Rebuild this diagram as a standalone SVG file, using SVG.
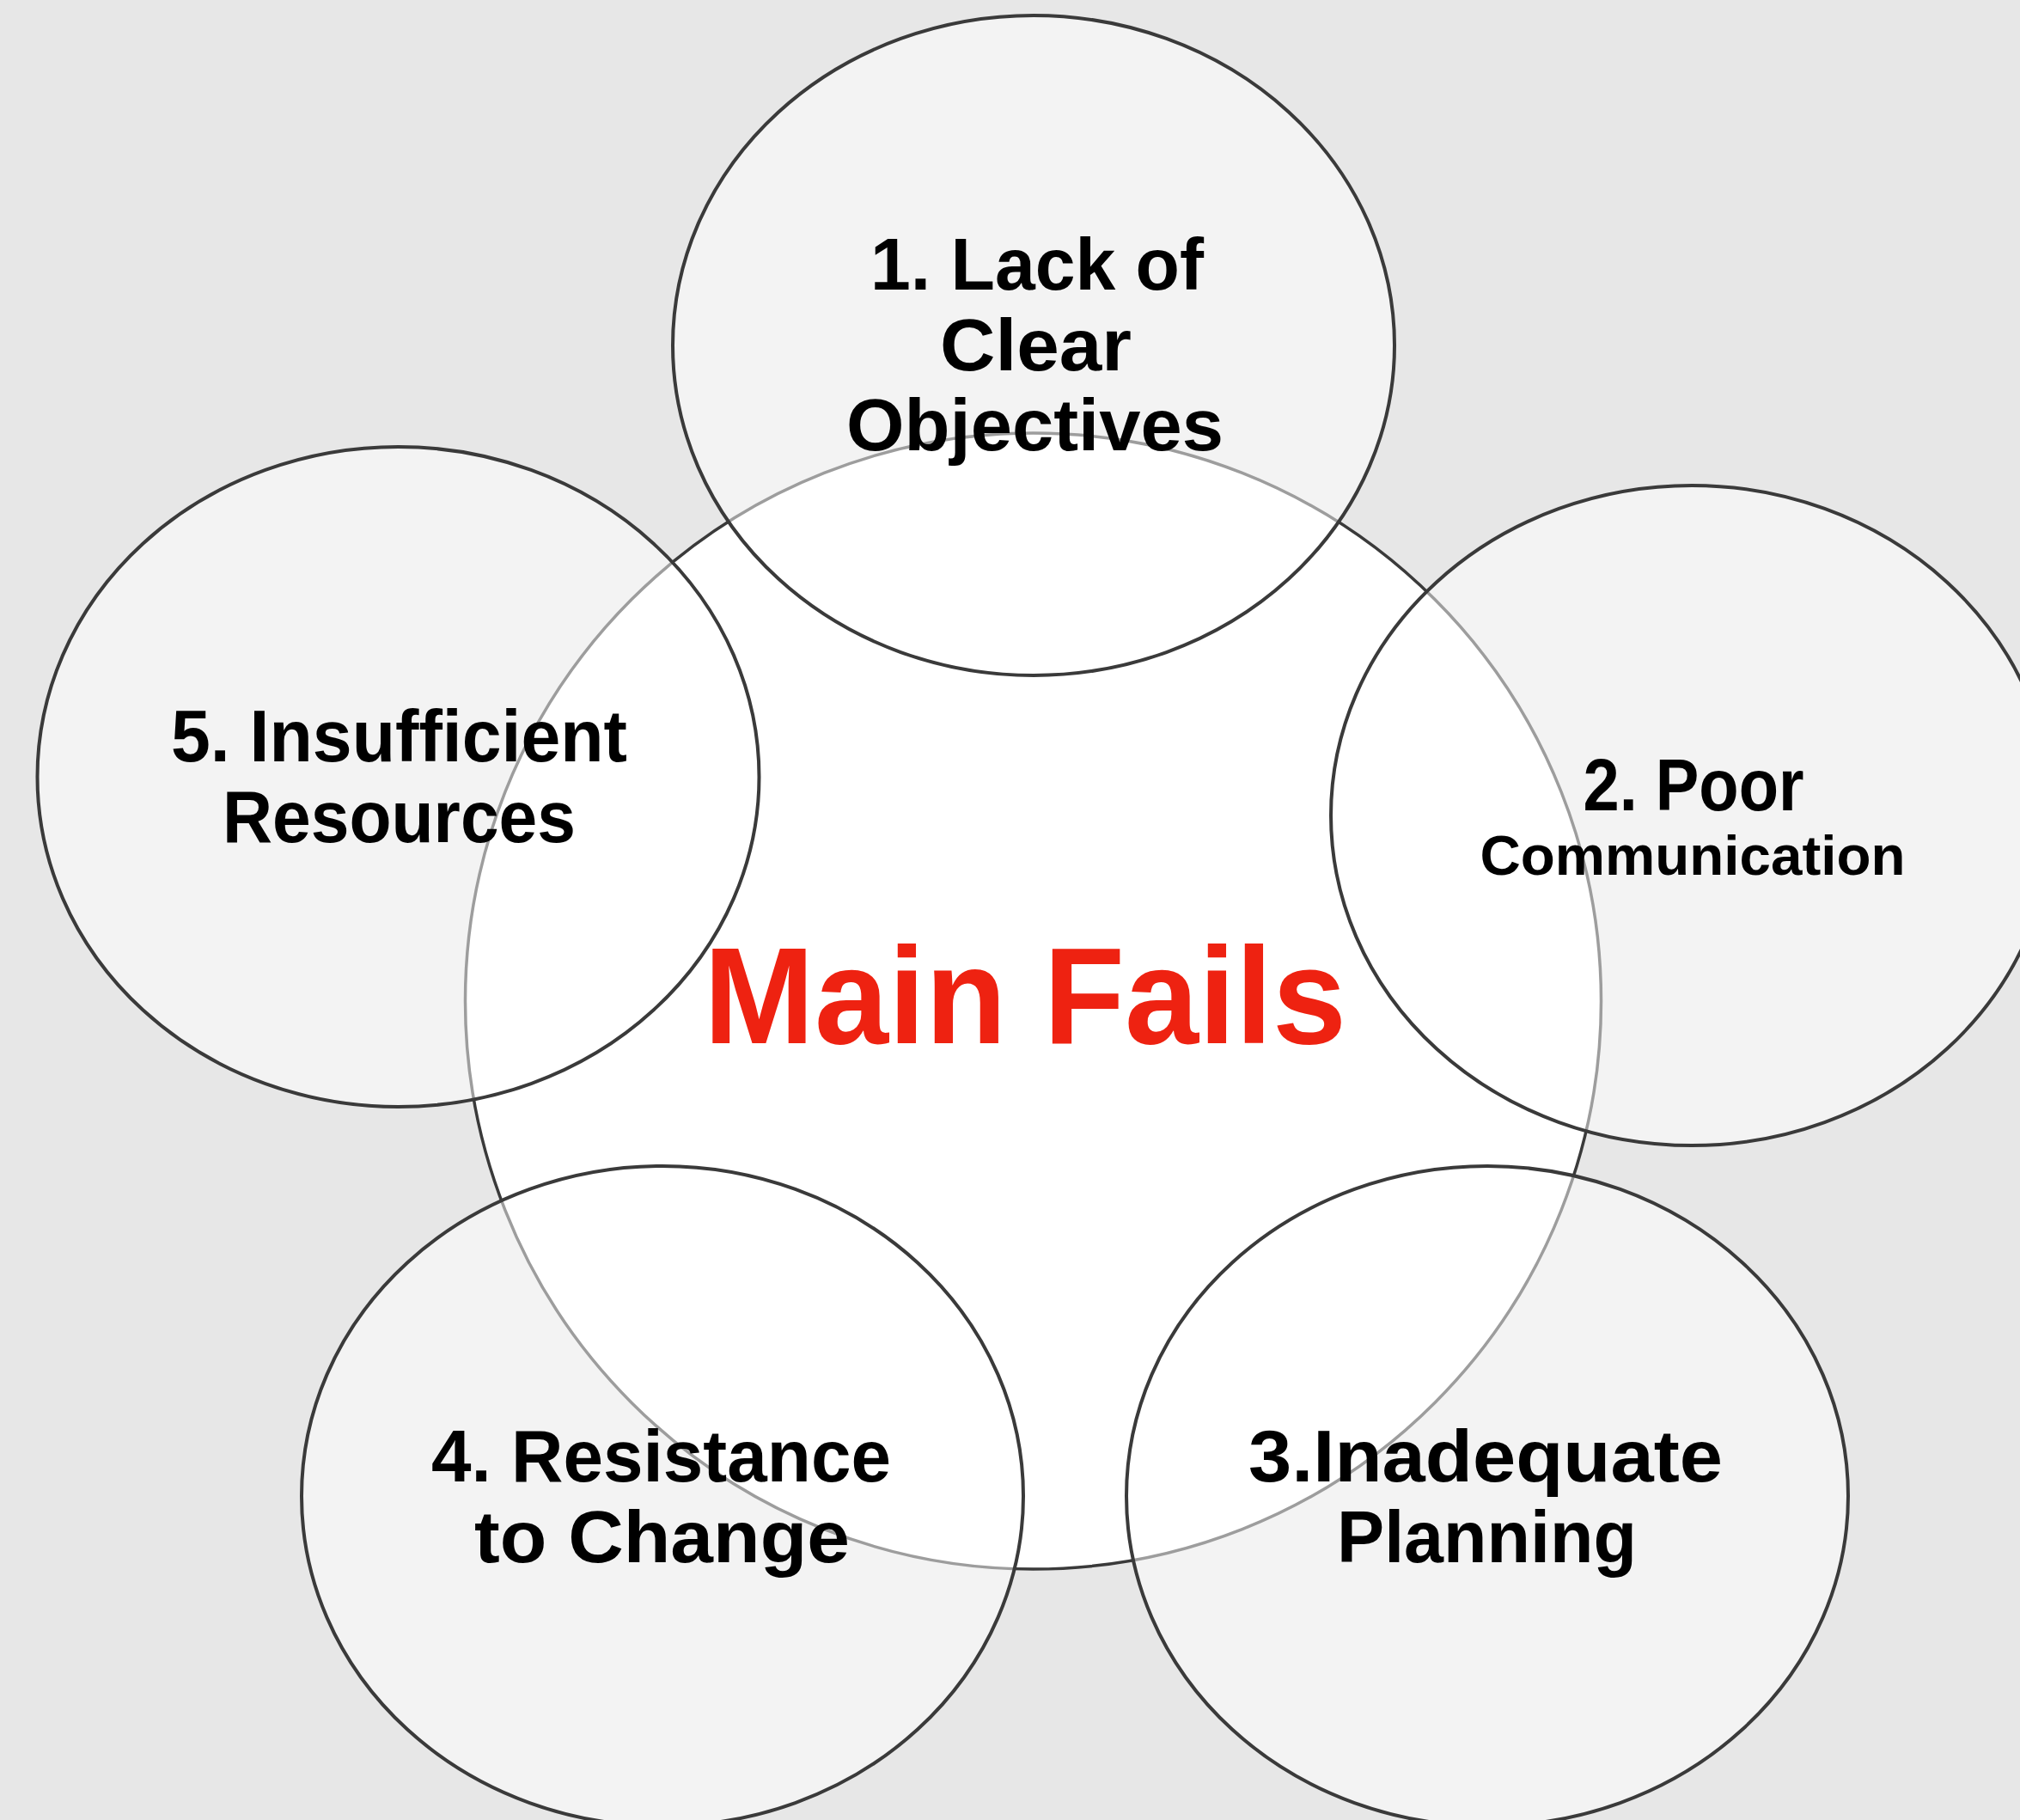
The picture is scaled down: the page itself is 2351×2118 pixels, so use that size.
<svg xmlns="http://www.w3.org/2000/svg" width="2351" height="2118" viewBox="0 0 2351 2118">
  <style>
    .hub { fill: #ffffff; stroke: #3a3a3a; stroke-width: 3.5; }
    .petal { fill: #ffffff; fill-opacity: 0.5; stroke: #3a3a3a; stroke-width: 4; }
    .lbl { font-family: "Liberation Sans", Arial, sans-serif; font-weight: bold; font-size: 86px; fill: #000000; text-anchor: middle; }
    .small { font-size: 65px; }
    .title { font-family: "Liberation Sans", Arial, sans-serif; font-weight: bold; font-size: 160px; fill: #ee2211; text-anchor: middle; }
  </style>

  <!-- page background -->
  <rect x="0" y="0" width="2351" height="2118" fill="#e7e7e7"/>

  <!-- central circle -->
  <g id="hub">
    <circle class="hub" cx="1202.5" cy="1165" r="661"/>
  </g>

  <!-- surrounding translucent ellipses -->
  <g id="node-1">
    <ellipse class="petal" cx="1203" cy="402" rx="420" ry="384"/>
  </g>
  <g id="node-2">
    <ellipse class="petal" cx="1969" cy="949" rx="420" ry="384"/>
  </g>
  <g id="node-3">
    <ellipse class="petal" cx="1731" cy="1741" rx="420" ry="384"/>
  </g>
  <g id="node-4">
    <ellipse class="petal" cx="771" cy="1741" rx="420" ry="384"/>
  </g>
  <g id="node-5">
    <ellipse class="petal" cx="463.5" cy="904" rx="420" ry="384"/>
  </g>

  <!-- no connectors in this diagram -->
  <g id="connectors"/>

  <!-- labels -->
  <g id="labels">
    <text class="title" x="1193" y="1214" textLength="748" lengthAdjust="spacingAndGlyphs">Main Fails</text>

    <text class="lbl" x="1207" y="337" textLength="388" lengthAdjust="spacingAndGlyphs">1. Lack of</text>
    <text class="lbl" x="1205.5" y="431" textLength="223" lengthAdjust="spacingAndGlyphs">Clear</text>
    <text class="lbl" x="1204.5" y="524" textLength="439" lengthAdjust="spacingAndGlyphs">Objectives</text>

    <text class="lbl" x="1971" y="943" textLength="257" lengthAdjust="spacingAndGlyphs">2. Poor</text>
    <text class="lbl small" x="1970" y="1018" textLength="495" lengthAdjust="spacingAndGlyphs">Communication</text>

    <text class="lbl" x="1729" y="1724" textLength="552" lengthAdjust="spacingAndGlyphs">3.Inadequate</text>
    <text class="lbl" x="1730.5" y="1818" textLength="349" lengthAdjust="spacingAndGlyphs">Planning</text>

    <text class="lbl" x="769.5" y="1724" textLength="535" lengthAdjust="spacingAndGlyphs">4. Resistance</text>
    <text class="lbl" x="770.5" y="1818" textLength="437" lengthAdjust="spacingAndGlyphs">to Change</text>

    <text class="lbl" x="464.5" y="886" textLength="531" lengthAdjust="spacingAndGlyphs">5. Insufficient</text>
    <text class="lbl" x="464.5" y="980" textLength="411" lengthAdjust="spacingAndGlyphs">Resources</text>
  </g>
</svg>
